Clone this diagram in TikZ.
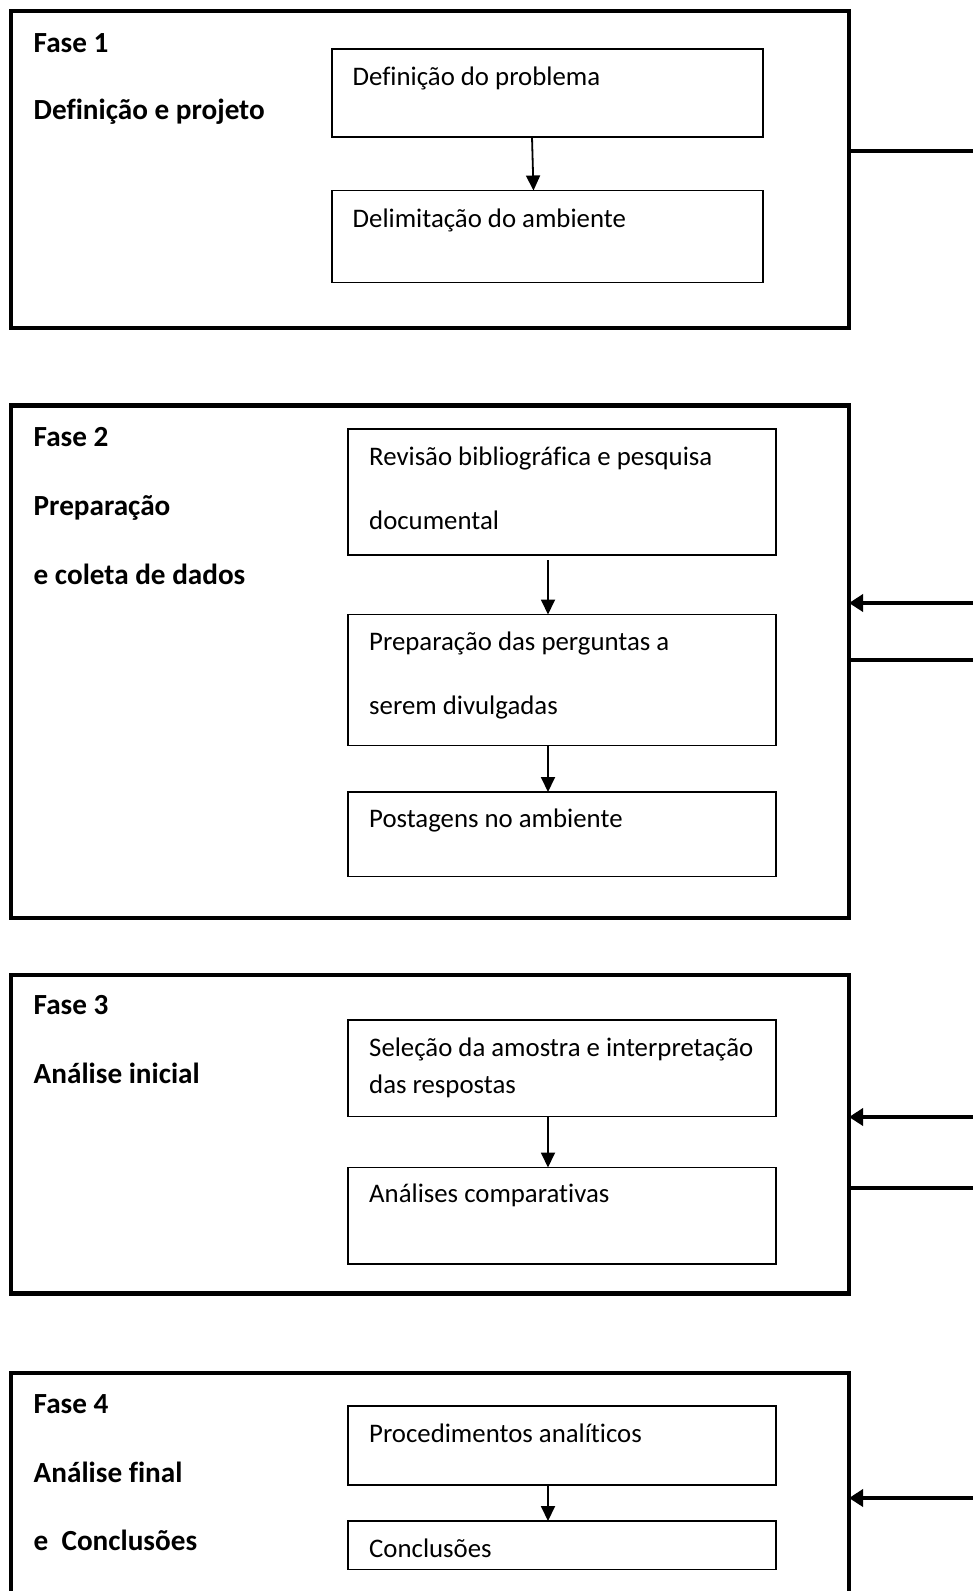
\documentclass[tikz,border=0pt]{standalone}
\usepackage{fontspec}
\setmainfont[Ligatures=CommonOff]{Carlito}
\usetikzlibrary{arrows.meta}
\begin{document}
\begin{tikzpicture}[x=1pt,y=-1pt,
  phasebox/.style={draw, line width=4.5pt, inner sep=0pt, outer sep=0pt, anchor=north west, minimum width=838pt},
  stepbox/.style={draw, line width=1.6pt, inner sep=0pt, outer sep=0pt, anchor=north west},
  txt/.style={anchor=base west, inner sep=0pt, font=\fontsize{26.8}{32}\selectfont},
  btxt/.style={anchor=base west, inner sep=0pt, font=\fontsize{29.2}{34}\selectfont\bfseries},
  flow/.style={line width=1.8pt, -{Triangle[length=15pt,width=14pt]}},
  side/.style={line width=4.5pt},
  sidearrow/.style={line width=4.5pt, -{Triangle[length=14pt,width=17pt]}}]
\useasboundingbox (0,0) rectangle (973,1591);
\clip (0,0) rectangle (973,1591);
\fill[white] (0,0) rectangle (973,1591);

% Phase 1
\node[phasebox, minimum height=317pt] (p1) at (11,11) {};
\node[btxt] (p1a) at (33.5,52) {Fase 1};
\node[btxt] (p1b) at (33.5,119.5) {Definição e projeto};
\node[stepbox, minimum width=431pt, minimum height=88pt] (b11) at (332,49) {};
\node[stepbox, minimum width=431pt, minimum height=92pt] (b12) at (332,190.5) {};
\node[txt] (t11) at (352.5,85) {Definição do problema};
\node[txt] (t12) at (352.5,227.5) {Delimitação do ambiente};
\draw[flow] ([xshift=-15.5pt]b11.south) -- ([xshift=-14pt]b12.north);
\coordinate (r1) at (973,151);
\draw[side] (p1.east |- r1) -- (r1);

% Phase 2
\node[phasebox, minimum height=512.5pt] (p2) at (11,405.5) {};
\node[btxt] (p2a) at (33.5,446.5) {Fase 2};
\node[btxt] (p2b) at (33.5,515) {Preparação};
\node[btxt] (p2c) at (33.5,584.5) {e coleta de dados};
\node[stepbox, minimum width=428pt, minimum height=126pt] (b21) at (348,429) {};
\node[stepbox, minimum width=428pt, minimum height=131pt] (b22) at (348,614.5) {};
\node[stepbox, minimum width=428pt, minimum height=84.5pt] (b23) at (348,792) {};
\node[txt] (t21) at (369,465.5) {Revisão bibliográfica e pesquisa};
\node[txt] (t21b) at (369,529.5) {documental};
\node[txt] (t22) at (369,650) {Preparação das perguntas a};
\node[txt] (t22b) at (369,714.5) {serem divulgadas};
\node[txt] (t23) at (369,827.5) {Postagens no ambiente};
\draw[flow] ([shift={(-14,5)}]b21.south) -- ([xshift=-14pt]b22.north);
\draw[flow] ([xshift=-14pt]b22.south) -- ([xshift=-14pt]b23.north);
\coordinate (r2a) at (973,603);
\coordinate (r2b) at (973,660);
\draw[sidearrow] (r2a) -- (p2.east |- r2a);
\draw[side] (p2.east |- r2b) -- (r2b);

% Phase 3
\node[phasebox, minimum height=318.5pt] (p3) at (11,975) {};
\node[btxt] (p3a) at (33.5,1014) {Fase 3};
\node[btxt] (p3b) at (33.5,1083.5) {Análise inicial};
\node[stepbox, minimum width=428pt, minimum height=96.5pt] (b31) at (348,1020) {};
\node[stepbox, minimum width=428pt, minimum height=96.5pt] (b32) at (348,1167.5) {};
\node[txt] (t31) at (369,1056.5) {Seleção da amostra e interpretação};
\node[txt] (t31b) at (369,1093.5) {das respostas};
\node[txt] (t32) at (369,1202.5) {Análises comparativas};
\draw[flow] ([xshift=-14pt]b31.south) -- ([xshift=-14pt]b32.north);
\coordinate (r3a) at (973,1117);
\coordinate (r3b) at (973,1188);
\draw[sidearrow] (r3a) -- (p3.east |- r3a);
\draw[side] (p3.east |- r3b) -- (r3b);

% Phase 4
\node[phasebox, minimum height=260pt] (p4) at (11,1373) {};
\node[btxt] (p4a) at (33.5,1413.5) {Fase 4};
\node[btxt] (p4b) at (33.5,1482) {Análise final};
\node[btxt] (p4c) at (33.5,1550) {e\ \ Conclusões};
\node[stepbox, minimum width=428pt, minimum height=79pt] (b41) at (348,1406) {};
\node[stepbox, minimum width=428pt, minimum height=48.5pt] (b42) at (348,1521) {};
\node[txt] (t41) at (369,1442) {Procedimentos analíticos};
\node[txt] (t42) at (369,1557) {Conclusões};
\draw[flow] ([xshift=-14pt]b41.south) -- ([xshift=-14pt]b42.north);
\coordinate (r4a) at (973,1498);
\draw[sidearrow] (r4a) -- (p4.east |- r4a);
\end{tikzpicture}
\end{document}
